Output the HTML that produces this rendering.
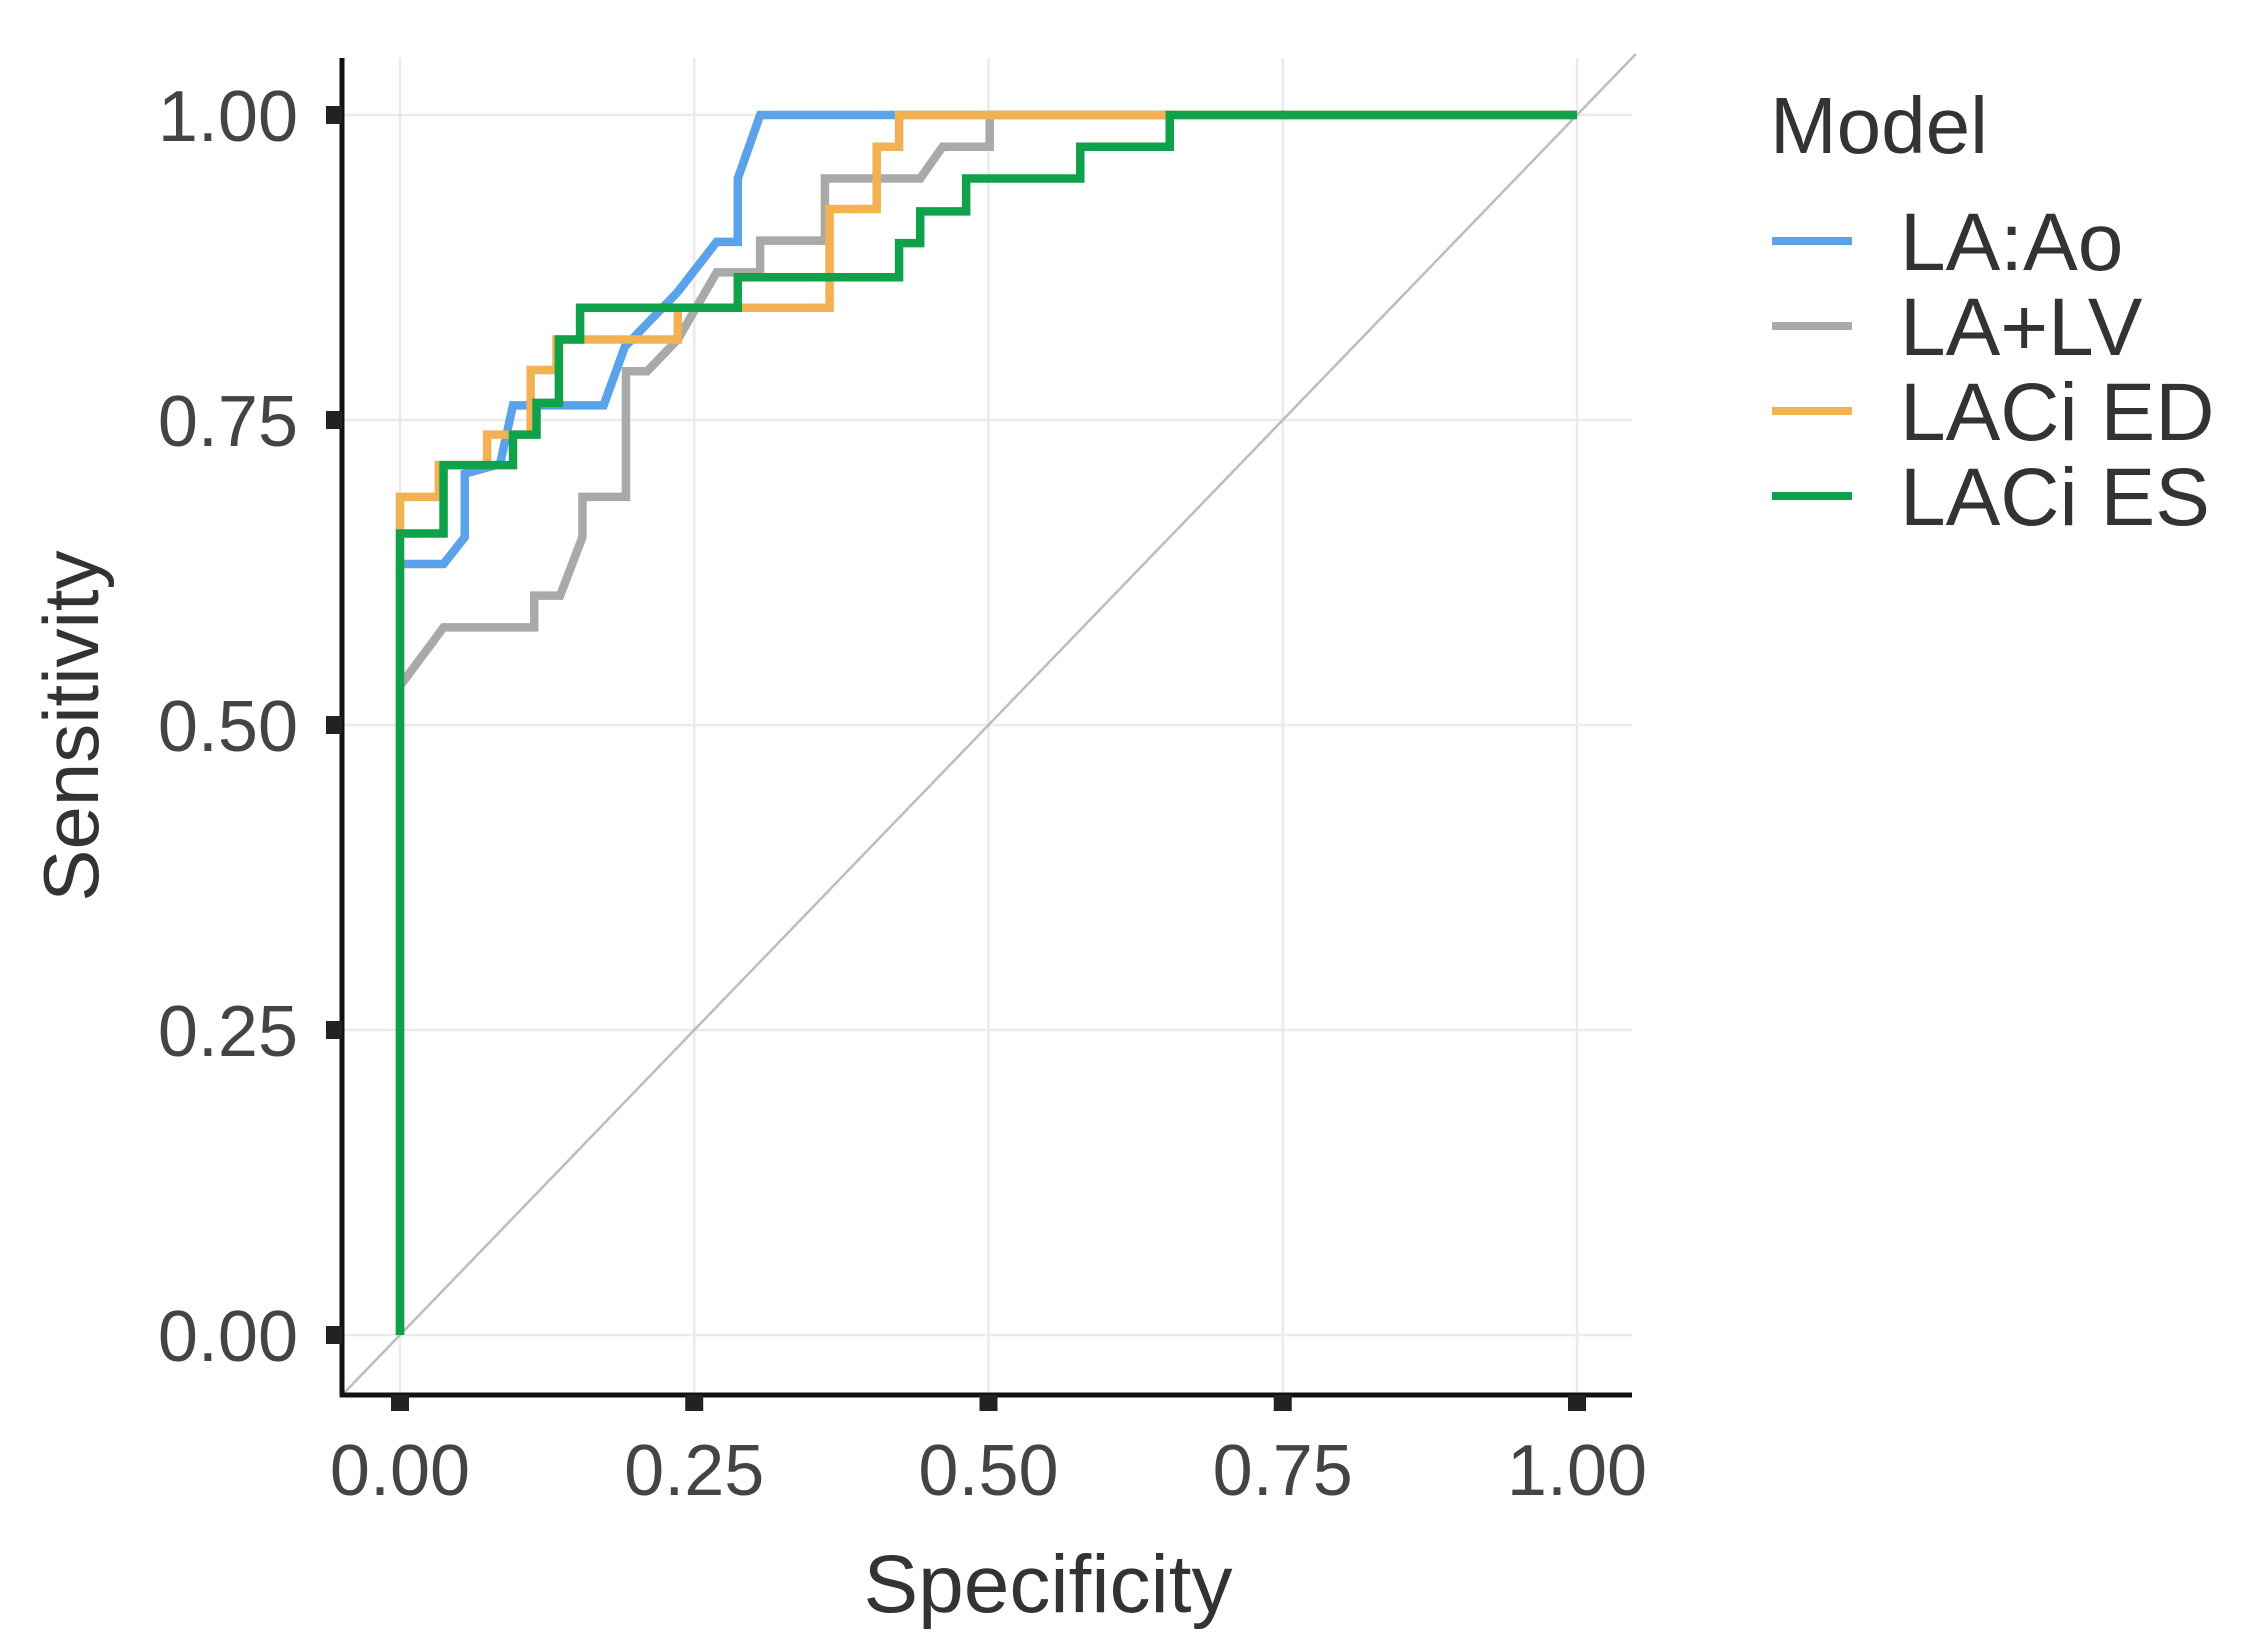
<!DOCTYPE html>
<html><head><meta charset="utf-8"><style>
html,body{margin:0;padding:0;background:#fff;}
svg{display:block;font-family:"Liberation Sans",Arial,sans-serif;}
</style></head><body>
<svg id="chart" width="2252" height="1652" viewBox="0 0 2252 1652" xmlns="http://www.w3.org/2000/svg">
<g id="grid"></g>
<g id="curves"></g>
<g id="axes"></g>
<text x="1048" y="1612" font-size="82" fill="#333" text-anchor="middle">Specificity</text>
<text transform="translate(98,726) rotate(-90)" font-size="78" fill="#333" text-anchor="middle">Sensitivity</text>
<g id="legend">
<text x="1770" y="153" font-size="80" fill="#333">Model</text>
</g>
</svg>
<script>
const ticks=[0,0.25,0.5,0.75,1];
const tickLabels=["0.00","0.25","0.50","0.75","1.00"];
const seriesNames=["LA:Ao","LA+LV","LACi ED","LACi ES"];
const seriesColors=["#5aa2ea","#a9a9a9","#f2b152","#10a24a"];
const laaoX=[0,0,0.037,0.055,0.055,0.085,0.096,0.173,0.191,0.236,0.269,0.287,0.287,0.306,1];
const laaoY=[0,0.632,0.632,0.654,0.706,0.714,0.762,0.762,0.810,0.855,0.896,0.896,0.948,1,1];
const lalvX=[0,0,0.037,0.114,0.114,0.136,0.155,0.155,0.192,0.192,0.21,0.236,0.269,0.306,0.306,0.361,0.361,0.442,0.461,0.501,0.501,1];
const lalvY=[0,0.532,0.58,0.58,0.606,0.606,0.654,0.687,0.687,0.79,0.79,0.816,0.871,0.871,0.897,0.897,0.948,0.948,0.974,0.974,1,1];
const lacedX=[0,0,0.033,0.033,0.074,0.074,0.111,0.111,0.133,0.133,0.236,0.236,0.365,0.365,0.405,0.405,0.424,0.424,1];
const lacedY=[0,0.687,0.687,0.713,0.713,0.738,0.738,0.791,0.791,0.816,0.816,0.842,0.842,0.923,0.923,0.974,0.974,1,1];
const lacesX=[0,0,0.037,0.037,0.096,0.096,0.116,0.116,0.135,0.135,0.153,0.153,0.287,0.287,0.424,0.424,0.442,0.442,0.481,0.481,0.578,0.578,0.654,0.654,1];
const lacesY=[0,0.657,0.657,0.713,0.713,0.738,0.738,0.764,0.764,0.816,0.816,0.842,0.842,0.867,0.867,0.895,0.895,0.921,0.921,0.948,0.948,0.974,0.974,1,1];

const NS="http://www.w3.org/2000/svg";
const L=342,R=1632,T=58,B=1395;
const sx=v=>400+v*(1577-400);
const sy=v=>1335-v*(1335-115);
function mk(tag,attrs,parent){const e=document.createElementNS(NS,tag);for(const k in attrs)e.setAttribute(k,attrs[k]);parent.appendChild(e);return e;}
const grid=document.getElementById('grid'),curves=document.getElementById('curves'),axes=document.getElementById('axes'),legend=document.getElementById('legend');
ticks.forEach((t,i)=>{
  let g1=mk('line',{x1:sx(t),x2:sx(t),y1:T,y2:B,stroke:'#ebebeb','stroke-width':2.5},grid);
  
  
  let g2=mk('line',{x1:L,x2:R,y1:sy(t),y2:sy(t),stroke:'#ebebeb','stroke-width':2.5},grid);
  
  
});
const lo=-0.05,hi=1.05;
let d=mk('line',{x1:sx(lo),y1:sy(lo),x2:sx(hi),y2:sy(hi),stroke:'#bdbdbd','stroke-width':2.5},curves);


const allX=[laaoX,lalvX,lacedX,lacesX],allY=[laaoY,lalvY,lacedY,lacesY];
const keys=['laao','lalv','laced','laces'];
allX.forEach((xs,s)=>{
  const pts=xs.map((x,i)=>sx(x)+','+sy(allY[s][i])).join(' ');
  let p=mk('polyline',{points:pts,fill:'none',stroke:seriesColors[s],'stroke-width':8.5,'stroke-linejoin':'miter'},curves);
  
  
});
let ax=mk('line',{x1:L,x2:L,y1:T,y2:B+2,stroke:'#111','stroke-width':5},axes);


let ay=mk('line',{x1:L-2,x2:R,y1:B,y2:B,stroke:'#111','stroke-width':5},axes);


ticks.forEach((t,i)=>{
  let a=mk('rect',{x:sx(t)-9,y:B,width:18,height:16,fill:'#222'},axes);
  
  
  let b=mk('rect',{x:L-16,y:sy(t)-9,width:16,height:18,fill:'#222'},axes);
  
  
  let tx=mk('text',{x:sx(t),y:1495,'font-size':72,fill:'#444','text-anchor':'middle'},axes);
  tx.textContent=tickLabels[i];
  
  
  let ty=mk('text',{x:298,y:sy(t)+26,'font-size':72,fill:'#444','text-anchor':'end'},axes);
  ty.textContent=tickLabels[i];
  
  
});
seriesNames.forEach((n,i)=>{
  const y=241+i*85;
  let k=mk('line',{x1:1772,x2:1852,y1:y,y2:y,stroke:seriesColors[i],'stroke-width':8},legend);
  
  
  let t=mk('text',{x:1900,y:y+29,'font-size':82,fill:'#333'},legend);
  t.textContent=n;
  
  
});
</script>
</body></html>
